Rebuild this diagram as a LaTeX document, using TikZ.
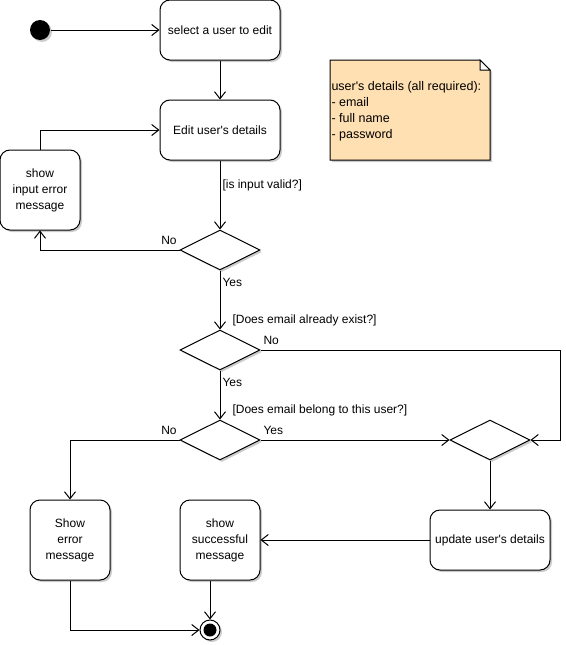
\documentclass[tikz,border=0pt]{standalone}
\usepackage{fontspec}
\setmainfont{Liberation Sans}
\usetikzlibrary{arrows.meta,shapes.geometric,shadows}
\definecolor{notefill}{RGB}{255,224,178}
\newcommand{\apo}{\textquotesingle}
\begin{document}
\begin{tikzpicture}[x=1pt, y=-1pt, ->, >={Straight Barb[length=7pt,width=11pt]}, line width=1pt,
    shadowed/.style={drop shadow={shadow xshift=2pt, shadow yshift=-2pt, fill=black, opacity=0.2}},
    act/.style={draw, rounded corners=10pt, fill=white, minimum width=120pt, minimum height=60pt,
      align=center, font=\fontsize{12}{16}\selectfont, shadowed},
    actsq/.style={act, minimum width=80pt, minimum height=80pt},
    dec/.style={diamond, draw, fill=white, minimum width=80pt, minimum height=40pt, inner sep=0pt, shadowed},
    init/.style={circle, fill=black, minimum size=20pt, inner sep=0pt, shadowed},
    final/.style={circle, draw, fill=white, minimum size=20pt, inner sep=0pt, shadowed,
      path picture={\fill[black] (path picture bounding box.center) circle (6.5pt);}},
    lbl/.style={font=\fontsize{12}{14}\selectfont, inner sep=0pt}]
        \useasboundingbox (0,0) rectangle (565,645);

        \node[init] (start) at (40,30) {};
        \node[act] (sel) at (220,30) {select a user to edit};
        \node[act] (edit) at (220,130) {Edit user\apo s details};
        \node[actsq] (inerr) at (40,190) {show\\input error\\message};
        \node[dec] (d1) at (220,250) {};
        \node[dec] (d2) at (220,350) {};
        \node[dec] (d3) at (220,440) {};
        \node[dec] (mrg) at (490,440) {};
        \node[actsq] (err) at (70,540) {Show\\error\\message};
        \node[actsq] (succ) at (220,540) {show\\successful\\message};
        \node[act] (upd) at (490,540) {update user\apo s details};
        \node[final] (fin) at (210,630) {};

        % note
        \draw[-, fill=notefill, shadowed] (330,60) -- (480,60) -- (490,70) -- (490,160) -- (330,160) -- cycle;
        \draw[-, fill=white] (480,60) -- (480,70) -- (490,70) -- cycle;
        \node[anchor=west, align=left, inner sep=0pt, font=\fontsize{12.5}{16}\selectfont] (note) at (331,111)
          {user\apo s details (all required):\\- email\\- full name\\- password};

        % guards and branch labels
        \node[lbl, anchor=west] (g1) at (222,185) {[is input valid?]};
        \node[lbl] (no1) at (169,240) {No};
        \node[lbl, anchor=west] (yes1) at (222,282) {Yes};
        \node[lbl, anchor=west] (g2) at (232,320) {[Does email already exist?]};
        \node[lbl, anchor=west] (no2) at (263,340) {No};
        \node[lbl, anchor=west] (yes2) at (222,382) {Yes};
        \node[lbl, anchor=west] (g3) at (232,410) {[Does email belong to this user?]};
        \node[lbl] (no3) at (169,430) {No};
        \node[lbl, anchor=west] (yes3) at (263,430) {Yes};

        \draw (start) -- (sel);
        \draw (sel) -- (edit);
        \draw (edit) -- (d1);
        \draw (d1.west) -| (inerr.south);
        \draw (inerr.north) |- (edit.west);
        \draw (d1) -- (d2);
        \draw (d2.east) -- ++(300,0) |- (mrg.east);
        \draw (d2) -- (d3);
        \draw (d3.west) -| (err.north);
        \draw (d3.east) -- (mrg.west);
        \draw (mrg) -- (upd);
        \draw (upd.west) -- (succ.east);
        \draw (fin |- succ.south) -- (fin);
        \draw (err.south) |- (fin.west);

      \end{tikzpicture}
\end{document}
